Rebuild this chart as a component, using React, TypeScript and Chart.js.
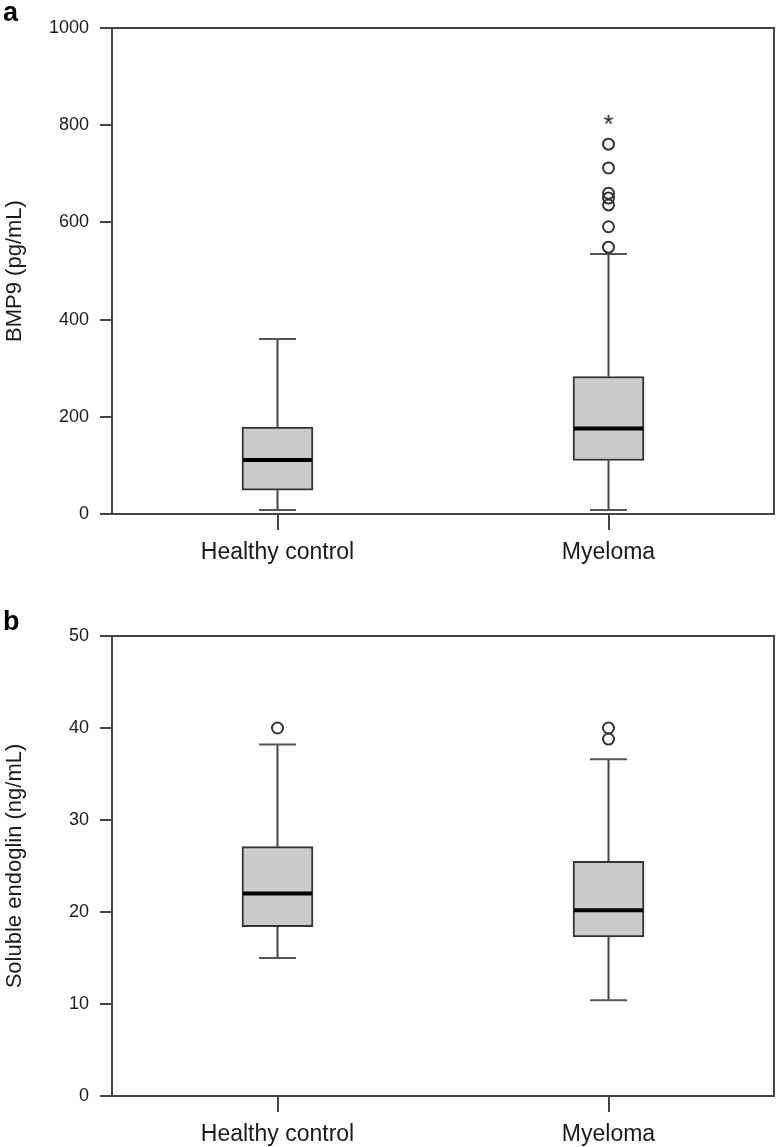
import React, { useEffect, useRef } from "react";
import { Chart, registerables } from "chart.js";

Chart.register(...registerables);

const categories = ["Healthy control", "Myeloma"];

// Panel a: BMP9 (pg/mL)
const bmp9Min = [8, 8];
const bmp9Q1 = [49, 110];
const bmp9Median = [111, 176];
const bmp9Q3 = [179, 283];
const bmp9Max = [360, 535];
const bmp9OutliersMyeloma = [549, 591, 636, 650, 660, 712, 761];
const bmp9ExtremeMyeloma = [809];
const bmp9Ticks = [0, 200, 400, 600, 800, 1000];

// Panel b: Soluble endoglin (ng/mL)
const sengMin = [15.0, 10.4];
const sengQ1 = [18.4, 17.3];
const sengMedian = [22.0, 20.2];
const sengQ3 = [27.1, 25.5];
const sengMax = [38.2, 36.6];
const sengOutliersHealthy = [40.0];
const sengOutliersMyeloma = [38.8, 40.0];
const sengTicks = [0, 10, 20, 30, 40, 50];

const FONT = "'Liberation Sans', Arial, Helvetica, sans-serif";
const LINE = "#444";
const TEXT = "#1a1a1a";

type Stats = { min: number[]; q1: number[]; med: number[]; q3: number[]; max: number[] };

function makeAsterisk(): HTMLCanvasElement {
  const c = document.createElement("canvas");
  c.width = 18;
  c.height = 18;
  const g = c.getContext("2d")!;
  g.fillStyle = "#222";
  g.font = `26px ${FONT}`;
  g.textAlign = "center";
  g.textBaseline = "middle";
  g.fillText("*", 9, 14);
  return c;
}

function boxPlugin(stats: Stats, label: string, labelY: number) {
  return {
    id: "boxplot-" + label,
    beforeDatasetsDraw(chart: any) {
      const { ctx, chartArea } = chart;
      const xs = chart.scales.x;
      const ys = chart.scales.y;
      ctx.save();
      ctx.strokeStyle = LINE;
      ctx.lineWidth = 2;
      ctx.beginPath();
      ctx.moveTo(chartArea.left, chartArea.top);
      ctx.lineTo(chartArea.right, chartArea.top);
      ctx.lineTo(chartArea.right, chartArea.bottom);
      ctx.stroke();
      for (let i = 0; i < categories.length; i++) {
        const x = xs.getPixelForValue(i);
        const cap = 18.5;
        const yMax = ys.getPixelForValue(stats.max[i]);
        const yQ3 = ys.getPixelForValue(stats.q3[i]);
        const yQ1 = ys.getPixelForValue(stats.q1[i]);
        const yMin = ys.getPixelForValue(stats.min[i]);
        ctx.strokeStyle = LINE;
        ctx.lineWidth = 2;
        ctx.beginPath();
        ctx.moveTo(x, yQ3);
        ctx.lineTo(x, yMax);
        ctx.moveTo(x, yQ1);
        ctx.lineTo(x, yMin);
        ctx.stroke();
        ctx.strokeStyle = "#555";
        ctx.lineWidth = 2;
        ctx.beginPath();
        ctx.moveTo(x - cap, yMax);
        ctx.lineTo(x + cap, yMax);
        ctx.moveTo(x - cap, yMin);
        ctx.lineTo(x + cap, yMin);
        ctx.stroke();
      }
      ctx.restore();
    },
    afterDatasetsDraw(chart: any) {
      const { ctx } = chart;
      const xs = chart.scales.x;
      const ys = chart.scales.y;
      const meta = chart.getDatasetMeta(0);
      ctx.save();
      for (let i = 0; i < categories.length; i++) {
        const bar = meta.data[i];
        const half = bar.width / 2 - 1;
        const x = xs.getPixelForValue(i);
        const y = ys.getPixelForValue(stats.med[i]);
        ctx.strokeStyle = "#000";
        ctx.lineWidth = 4;
        ctx.beginPath();
        ctx.moveTo(x - half, y);
        ctx.lineTo(x + half, y);
        ctx.stroke();
      }
      ctx.fillStyle = "#000";
      ctx.font = `bold 27px ${FONT}`;
      ctx.textAlign = "left";
      ctx.textBaseline = "alphabetic";
      ctx.fillText(label, 3, labelY);
      ctx.restore();
    },
  };
}

function makeConfig(opts: {
  stats: Stats;
  outliers: { x: string; y: number }[];
  extremes: { x: string; y: number }[];
  yMax: number;
  ticks: number[];
  title: string;
  padTop: number;
  xHeight: number;
  label: string;
  labelY: number;
}) {
  const { stats } = opts;
  const datasets: any[] = [
    {
      type: "bar",
      data: categories.map((_, i) => [stats.q1[i], stats.q3[i]]),
      backgroundColor: "#cbcbcb",
      borderColor: "#333",
      borderWidth: 2,
      borderSkipped: false,
      barThickness: 71,
    },
    {
      type: "line",
      data: opts.outliers,
      showLine: false,
      pointStyle: "circle",
      pointRadius: 5.5,
      pointBorderWidth: 2,
      pointBorderColor: "#333",
      pointBackgroundColor: "rgba(255,255,255,0)",
    },
  ];
  if (opts.extremes.length) {
    datasets.push({
      type: "line",
      data: opts.extremes,
      showLine: false,
      pointStyle: makeAsterisk(),
      pointRadius: 9,
    });
  }
  return {
    type: "bar",
    data: { labels: categories, datasets },
    options: {
      animation: false,
      responsive: false,
      maintainAspectRatio: false,
      events: [],
      layout: { autoPadding: false, padding: { top: opts.padTop, right: 5, left: 0, bottom: 0 } },
      plugins: { legend: { display: false }, tooltip: { enabled: false } },
      scales: {
        x: {
          type: "category",
          offset: true,
          grid: {
            offset: false,
            drawOnChartArea: false,
            drawTicks: true,
            tickLength: 16,
            color: LINE,
            lineWidth: 2,
          },
          border: { display: true, color: LINE, width: 2 },
          ticks: { color: TEXT, font: { family: FONT, size: 23 }, padding: 9 },
          afterFit(s: any) {
            s.height = opts.xHeight;
          },
        },
        y: {
          min: 0,
          max: opts.yMax,
          afterBuildTicks(s: any) {
            s.ticks = opts.ticks.map((v) => ({ value: v }));
          },
          grid: {
            drawOnChartArea: false,
            drawTicks: true,
            tickLength: 12,
            color: LINE,
            lineWidth: 2,
          },
          border: { display: true, color: LINE, width: 2 },
          ticks: {
            color: TEXT,
            font: { family: FONT, size: 18 },
            padding: 11,
            callback: (v: any) => String(v),
          },
          title: {
            display: true,
            text: opts.title,
            color: TEXT,
            font: { family: FONT, size: 22 },
            padding: { top: 2, bottom: 0 },
          },
          afterFit(s: any) {
            s.width = 112;
          },
        },
      },
    },
    plugins: [boxPlugin(stats, opts.label, opts.labelY)],
  };
}

function BoxChart(props: { cfg: any; width: number; height: number; top: number }) {
  const ref = useRef<HTMLCanvasElement>(null);
  useEffect(() => {
    const chart = new Chart(ref.current!, props.cfg);
    return () => chart.destroy();
  }, []);
  return (
    <canvas
      ref={ref}
      width={props.width}
      height={props.height}
      style={{ position: "absolute", left: 0, top: props.top, width: props.width, height: props.height }}
    />
  );
}

export default function App() {
  const cfgA = makeConfig({
    stats: { min: bmp9Min, q1: bmp9Q1, med: bmp9Median, q3: bmp9Q3, max: bmp9Max },
    outliers: bmp9OutliersMyeloma.map((y) => ({ x: "Myeloma", y })),
    extremes: bmp9ExtremeMyeloma.map((y) => ({ x: "Myeloma", y })),
    yMax: 1000,
    ticks: bmp9Ticks,
    title: "BMP9 (pg/mL)",
    padTop: 28,
    xHeight: 61,
    label: "a",
    labelY: 21,
  });
  const cfgB = makeConfig({
    stats: { min: sengMin, q1: sengQ1, med: sengMedian, q3: sengQ3, max: sengMax },
    outliers: [
      ...sengOutliersHealthy.map((y) => ({ x: "Healthy control", y })),
      ...sengOutliersMyeloma.map((y) => ({ x: "Myeloma", y })),
    ],
    extremes: [],
    yMax: 50,
    ticks: sengTicks,
    title: "Soluble endoglin (ng/mL)",
    padTop: 61,
    xHeight: 51,
    label: "b",
    labelY: 55,
  });
  return (
    <div style={{ position: "absolute", left: 0, top: 0, width: 779, height: 1147, background: "#fff" }}>
      <BoxChart cfg={cfgA} width={779} height={575} top={0} />
      <BoxChart cfg={cfgB} width={779} height={572} top={575} />
    </div>
  );
}
